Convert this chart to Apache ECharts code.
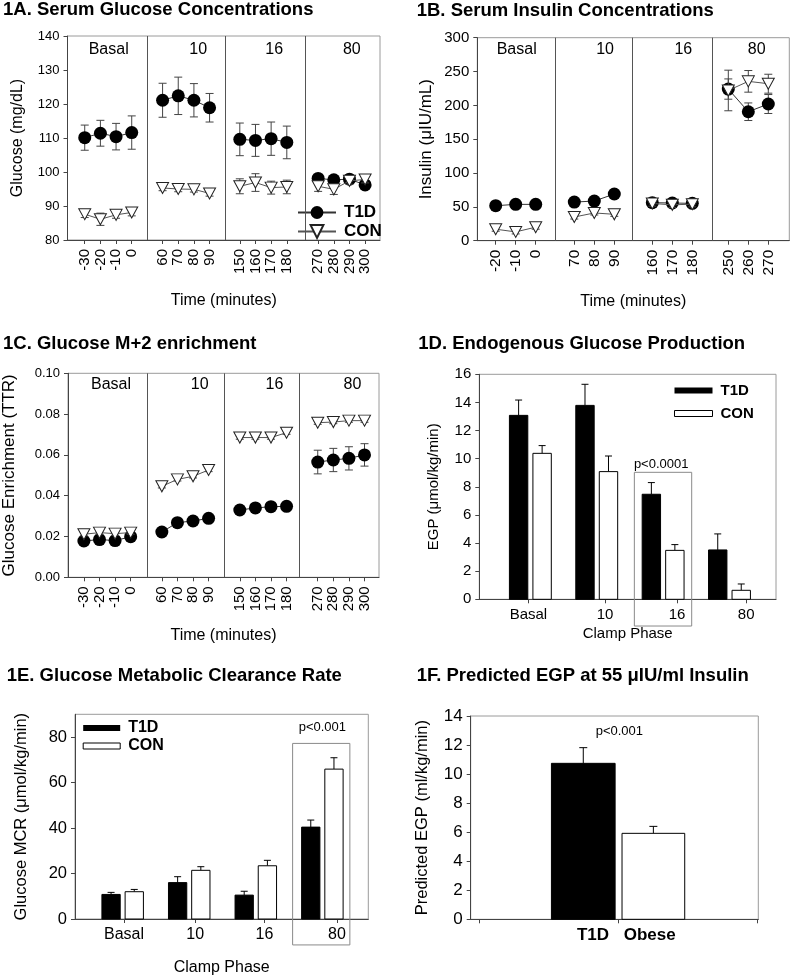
<!DOCTYPE html>
<html><head><meta charset="utf-8">
<script src="https://cdn.jsdelivr.net/npm/echarts@6/dist/echarts.min.js"></script>
<style>html,body{margin:0;padding:0;background:#fff}#c{width:791px;height:978px}</style>
</head><body><div id="c"></div>
<script>
// ---------------- DATA ----------------
const phaseNames = ['Basal', '10', '16', '80'];

// 1A Serum glucose (mg/dL)
const glucoseTimes = [-30, -20, -10, 0, 60, 70, 80, 90, 150, 160, 170, 180, 270, 280, 290, 300];
const glucoseT1D = [110.1, 111.4, 110.4, 111.6, 121.1, 122.4, 121.1, 118.9, 109.6, 109.3, 109.8, 108.7, 98.1, 97.7, 97.9, 96.2];
const glucoseT1DErr = [3.7, 3.8, 3.9, 4.9, 5.0, 5.5, 4.9, 4.2, 4.8, 4.7, 4.9, 4.8, 0.8, 0.8, 0.8, 0.8];
const glucoseCON = [87.6, 86.1, 87.4, 88.1, 95.3, 95.0, 94.9, 93.7, 95.8, 96.9, 95.4, 95.6, 95.8, 94.9, 97.4, 97.8];
const glucoseCONErr = [1.0, 1.8, 1.0, 1.0, 0.8, 0.8, 0.8, 0.8, 2.2, 2.6, 1.9, 2.0, 1.5, 1.5, 1.0, 1.0];

// 1B Serum insulin (uIU/mL)
const insulinTimes = [-20, -10, 0, 70, 80, 90, 160, 170, 180, 250, 260, 270];
const insulinT1D = [51.7, 53.7, 53.7, 57.1, 58.6, 69.0, 56.2, 55.7, 55.2, 224.1, 190.6, 202.0];
const insulinT1DErr = [3, 3, 3, 4, 4, 6, 5, 4, 4, 15, 13, 14];
const insulinCON = [17, 13, 20, 35, 41, 39, 55, 53, 54, 222, 235.5, 232];
const insulinCONErr = [3, 3, 3, 3, 3, 3, 4, 4, 4, 30, 16, 14];

// 1C Glucose M+2 enrichment (TTR)
const enrichTimes = [-30, -20, -10, 0, 60, 70, 80, 90, 150, 160, 170, 180, 270, 280, 290, 300];
const enrichT1D = [0.0178, 0.0185, 0.0180, 0.0199, 0.0222, 0.0268, 0.0276, 0.0289, 0.0330, 0.0340, 0.0346, 0.0348, 0.0565, 0.0575, 0.0583, 0.0600];
const enrichT1DErr = [0.001, 0.001, 0.001, 0.001, 0.001, 0.0012, 0.0012, 0.0012, 0.0015, 0.002, 0.002, 0.002, 0.0058, 0.0057, 0.0057, 0.0055];
const enrichCON = [0.0211, 0.0219, 0.0214, 0.0219, 0.0446, 0.0480, 0.0495, 0.0526, 0.0685, 0.0685, 0.0685, 0.0709, 0.0758, 0.0761, 0.0768, 0.0768];
const enrichCONErr = [0.0008, 0.0008, 0.0008, 0.0008, 0.0008, 0.0008, 0.0008, 0.0008, 0.0008, 0.0008, 0.0008, 0.0008, 0.0008, 0.0008, 0.0008, 0.0008];

// 1D Endogenous glucose production (umol/kg/min)
const egpT1D = [13.08, 13.79, 7.47, 3.51];
const egpT1DErr = [1.09, 1.50, 0.83, 1.14];
const egpCON = [10.38, 9.08, 3.48, 0.64];
const egpCONErr = [0.55, 1.11, 0.41, 0.45];
const egpPText = 'p<0.0001';

// 1E Glucose MCR (umol/kg/min)
const mcrT1D = [10.8, 16.0, 10.5, 40.4];
const mcrT1DErr = [0.9, 2.6, 1.7, 3.1];
const mcrCON = [12.0, 21.4, 23.4, 65.9];
const mcrCONErr = [1.0, 1.6, 2.4, 5.0];
const mcrPText = 'p<0.001';

// 1F Predicted EGP at 55 uIU/ml insulin (ml/kg/min)
const predGroups = ['T1D', 'Obese'];
const predEGP = [10.74, 5.92];
const predEGPErr = [1.08, 0.48];
const predPText = 'p<0.001';

// ---------------- LAYOUT / STYLE ----------------
const FONT = '"Liberation Sans", Arial, Helvetica, sans-serif';
const AX = '#444';
const FRAME = '#9a9a9a';

// slot layout of the broken time axes (group start per phase)
const layA = { phaseStart: [0, 4.97, 9.9, 14.9], per: 4, min: -1.1, max: 18.85, dividers: [3.98, 8.95, 14.06], labelX: [1.53, 7.24, 12.1, 17.05], labelY: 136.1 };
const layB = { phaseStart: [0, 3.93, 7.83, 11.63], per: 3, min: -0.92, max: 14.68, dividers: [3.0, 6.83, 10.83], labelX: [1.05, 5.47, 9.38, 13.05], labelY: 282.9 };
const layC = { phaseStart: [0, 5, 10, 15], per: 4, min: -1.02, max: 18.93, dividers: [4.07, 9.03, 13.84], labelX: [1.74, 7.43, 12.22, 17.23], labelY: 0.0943 };

function slotPositions(lay) {
  const pos = [];
  lay.phaseStart.forEach(s => { for (let j = 0; j < lay.per; j++) pos.push(s + j); });
  return pos;
}
const posA = slotPositions(layA), posB = slotPositions(layB), posC = slotPositions(layC);
const catIdx = [0, 1, 2, 3];

function labelAt(positions, labels) {
  return v => {
    let best = 0, bd = Infinity;
    positions.forEach((p, i) => { const d = Math.abs(p - v); if (d < bd) { bd = d; best = i; } });
    return bd < 1e-3 ? String(labels[best]) : '';
  };
}
function lineData(pos, vals, per) {
  const out = [];
  pos.forEach((p, i) => {
    if (i > 0 && i % per === 0) out.push([p - 0.5, '-']);
    out.push([p, vals[i]]);
  });
  return out;
}

const chart = echarts.init(document.getElementById('c'), null, { renderer: 'canvas' });

// ---------------- series builders ----------------
function errSeries(gi, pos, vals, errs, capHalf, z) {
  return {
    type: 'custom', xAxisIndex: gi, yAxisIndex: gi, z: z, silent: true, clip: false,
    data: pos.map((p, i) => [p, vals[i], errs[i]]),
    renderItem: (params, api) => {
      const x = api.value(0), y = api.value(1), e = api.value(2);
      const a = api.coord([x, y + e]), b = api.coord([x, y - e]);
      const st = { stroke: AX, lineWidth: 1 };
      return { type: 'group', children: [
        { type: 'line', shape: { x1: a[0], y1: a[1], x2: b[0], y2: b[1] }, style: st },
        { type: 'line', shape: { x1: a[0] - capHalf, y1: a[1], x2: a[0] + capHalf, y2: a[1] }, style: st },
        { type: 'line', shape: { x1: b[0] - capHalf, y1: b[1], x2: b[0] + capHalf, y2: b[1] }, style: st }
      ] };
    }
  };
}
function t1dLine(gi, pos, vals, per, lay) {
  return {
    type: 'line', name: 'T1D_line', xAxisIndex: gi, yAxisIndex: gi, z: 3,
    data: lineData(pos, vals, per), connectNulls: false,
    symbol: 'circle', symbolSize: 13, showSymbol: true,
    itemStyle: { color: '#000' }, lineStyle: { color: '#333', width: 1 },
    markLine: {
      silent: true, symbol: ['none', 'none'], label: { show: false },
      lineStyle: { color: '#555', width: 1, type: 'solid' },
      data: lay.dividers.map(x => ({ xAxis: x }))
    }
  };
}
function conLine(gi, pos, vals, per) {
  return {
    type: 'line', name: 'CON_line', xAxisIndex: gi, yAxisIndex: gi, z: 5,
    data: lineData(pos, vals, per), connectNulls: false,
    symbol: 'triangle', symbolRotate: 180, symbolSize: [12, 11], showSymbol: true,
    itemStyle: { color: '#fff', borderColor: '#222', borderWidth: 1 },
    lineStyle: { color: '#555', width: 1 }
  };
}
function textSeries(gi, xs, ys, texts, fontSize, bold) {
  return {
    type: 'custom', xAxisIndex: gi, yAxisIndex: gi, silent: true, clip: false, z: 6,
    data: xs.map((x, i) => [x, ys[i], i]),
    renderItem: (params, api) => {
      const p = api.coord([api.value(0), api.value(1)]);
      return { type: 'text', x: p[0], y: p[1], style: {
        text: texts[api.value(2)], textAlign: 'center', textVerticalAlign: 'middle',
        fontSize: fontSize, fontFamily: FONT, fontWeight: bold ? 'bold' : 'normal', fill: '#000' } };
    }
  };
}
function boxSeries(gi, box) {
  return {
    type: 'custom', xAxisIndex: gi, yAxisIndex: gi, silent: true, clip: false, z: 6,
    data: [box],
    renderItem: (params, api) => {
      const a = api.coord([api.value(0), api.value(3)]);
      const b = api.coord([api.value(1), api.value(2)]);
      return { type: 'rect', shape: { x: a[0], y: a[1], width: b[0] - a[0], height: b[1] - a[1] },
        style: { fill: 'none', stroke: '#8a8a8a', lineWidth: 1 } };
    }
  };
}
function barSeries(name, gi, cats, vals, errs, offsetPx, widthPx, fill, capHalf) {
  return {
    type: 'custom', name: name, xAxisIndex: gi, yAxisIndex: gi, silent: true, clip: false, z: 3,
    itemStyle: { color: fill },
    data: vals.map((v, i) => [cats[i], v, errs[i]]),
    renderItem: (params, api) => {
      const c = api.value(0), v = api.value(1), e = api.value(2);
      const top = api.coord([c, v]), base = api.coord([c, 0]), et = api.coord([c, v + e]);
      const cx = top[0] + offsetPx;
      const st = { stroke: '#000', lineWidth: 1 };
      return { type: 'group', children: [
        { type: 'line', shape: { x1: cx, y1: top[1], x2: cx, y2: et[1] }, style: st },
        { type: 'line', shape: { x1: cx - capHalf, y1: et[1], x2: cx + capHalf, y2: et[1] }, style: st },
        { type: 'rect', shape: { x: cx - widthPx / 2, y: top[1], width: widthPx, height: base[1] - top[1] },
          style: { fill: fill, stroke: '#000', lineWidth: 1 } }
      ] };
    }
  };
}

// ---------------- axes ----------------
function gridBox(left, top, width, height) {
  return { left, top, width, height, show: true, borderColor: FRAME, borderWidth: 1, backgroundColor: 'transparent' };
}
function xTimeAxis(gi, lay, pos, times, fs, nameGap) {
  return {
    gridIndex: gi, type: 'value', min: lay.min, max: lay.max, splitLine: { show: false },
    axisLine: { onZero: false, lineStyle: { color: AX } },
    axisTick: { show: true, customValues: pos, length: 4, lineStyle: { color: AX } },
    axisLabel: { customValues: pos, formatter: labelAt(pos, times), rotate: 90, fontSize: fs, color: '#000', fontFamily: FONT, margin: 9 },
    name: 'Time (minutes)', nameLocation: 'middle', nameGap: nameGap,
    nameTextStyle: { fontSize: 16, color: '#000', fontFamily: FONT }
  };
}
function xCatAxis(gi, min, max, labelPos, labels, fs, name, nameGap, nameFs, bold, tickPos) {
  return {
    gridIndex: gi, type: 'value', min: min, max: max, splitLine: { show: false },
    axisLine: { onZero: false, lineStyle: { color: AX } },
    axisTick: { show: true, customValues: tickPos || labelPos, length: 4, lineStyle: { color: AX } },
    axisLabel: { customValues: labelPos, formatter: labelAt(labelPos, labels), fontSize: fs, color: '#000', fontFamily: FONT, margin: 8, fontWeight: bold ? 'bold' : 'normal' },
    name: name, nameLocation: 'middle', nameGap: nameGap,
    nameTextStyle: { fontSize: nameFs, color: '#000', fontFamily: FONT }
  };
}
function yAxis(gi, min, max, ticks, fs, name, nameGap, nameFs, fmt) {
  return {
    gridIndex: gi, type: 'value', min: min, max: max, splitLine: { show: false },
    axisLine: { show: true, onZero: false, lineStyle: { color: AX } },
    axisTick: { show: true, customValues: ticks, length: 4, lineStyle: { color: AX } },
    axisLabel: { customValues: ticks, fontSize: fs, color: '#000', fontFamily: FONT, margin: 8, formatter: fmt || (v => String(v)) },
    name: name, nameLocation: 'middle', nameGap: nameGap,
    nameTextStyle: { fontSize: nameFs, color: '#000', fontFamily: FONT }
  };
}

const titleStyle = { fontSize: 18.5, fontWeight: 'bold', color: '#000', fontFamily: FONT };
const legendFmt = n => n.split('_')[0];

const option = {
  animation: false,
  backgroundColor: '#fff',
  title: [
    { text: '1A. Serum Glucose Concentrations', left: 3, top: 0, padding: 0, textStyle: titleStyle },
    { text: '1B. Serum Insulin Concentrations', left: 416.7, top: 1.5, padding: 0, textStyle: titleStyle },
    { text: '1C. Glucose M+2 enrichment', left: 3, top: 334.5, padding: 0, textStyle: titleStyle },
    { text: '1D. Endogenous Glucose Production', left: 418.3, top: 334.5, padding: 0, textStyle: titleStyle },
    { text: '1E. Glucose Metabolic Clearance Rate', left: 6.7, top: 666.5, padding: 0, textStyle: titleStyle },
    { text: '1F. Predicted EGP at 55 \u03bcIU/ml Insulin', left: 416.7, top: 666.5, padding: 0, textStyle: titleStyle }
  ],
  legend: [
    { orient: 'vertical', left: 297, top: 204, itemWidth: 38, itemHeight: 16, itemGap: 2, selectedMode: false, padding: 0,
      data: ['T1D_line', 'CON_line'], formatter: legendFmt,
      textStyle: { fontSize: 17, fontWeight: 'bold', color: '#000', fontFamily: FONT, padding: [0, 0, 0, 3] } },
    { orient: 'vertical', left: 674, top: 383, itemWidth: 38, itemHeight: 6, itemGap: 8, selectedMode: false, padding: 0,
      data: [{ name: 'T1D_bar', icon: 'rect', itemStyle: { color: '#000' } },
             { name: 'CON_bar', icon: 'rect', itemStyle: { color: '#fff', borderColor: '#000', borderWidth: 1 } }],
      formatter: legendFmt, textStyle: { fontSize: 15, fontWeight: 'bold', color: '#000', fontFamily: FONT, padding: [0, 0, 0, 3] } },
    { orient: 'vertical', left: 82.7, top: 720, itemWidth: 37, itemHeight: 6, itemGap: 2, selectedMode: false, padding: 0,
      data: [{ name: 'T1D_bar', icon: 'rect', itemStyle: { color: '#000' } },
             { name: 'CON_bar', icon: 'rect', itemStyle: { color: '#fff', borderColor: '#000', borderWidth: 1 } }],
      formatter: legendFmt, textStyle: { fontSize: 16, fontWeight: 'bold', color: '#000', fontFamily: FONT, padding: [0, 0, 0, 3] } }
  ],
  grid: [
    gridBox(67.5, 36, 312.5, 204),
    gridBox(477.3, 37.7, 312, 203),
    gridBox(67, 373.3, 312, 204),
    gridBox(479.3, 374.3, 296.7, 225),
    gridBox(75, 714.3, 293.3, 204.7),
    gridBox(470.7, 716, 287.6, 203.3)
  ],
  xAxis: [
    xTimeAxis(0, layA, posA, glucoseTimes, 15, 53),
    xTimeAxis(1, layB, posB, insulinTimes, 15.5, 53),
    xTimeAxis(2, layC, posC, enrichTimes, 15, 50),
    xCatAxis(3, -0.77, 3.70, [-0.03, 1.125, 2.21, 3.25], phaseNames, 15, 'Clamp Phase', 27, 15, false),
    xCatAxis(4, -0.716, 3.69, [0.02, 1.09, 2.13, 3.22], phaseNames, 16, 'Clamp Phase', 41, 16, false),
    xCatAxis(5, -1.06, 1.01, [-0.18, 0.228], predGroups, 17, '', 0, 16, true, [-1, 0, 1])
  ],
  yAxis: [
    yAxis(0, 80, 140, [80, 90, 100, 110, 120, 130, 140], 13, 'Glucose (mg/dL)', 42, 16),
    yAxis(1, 0, 300, [0, 50, 100, 150, 200, 250, 300], 15, 'Insulin (\u03bcIU/mL)', 42, 17),
    yAxis(2, 0, 0.1, [0, 0.02, 0.04, 0.06, 0.08, 0.1], 13, 'Glucose Enrichment (TTR)', 50, 17, v => v.toFixed(2)),
    yAxis(3, 0, 16, [0, 2, 4, 6, 8, 10, 12, 14, 16], 15, 'EGP (\u03bcmol/kg/min)', 38, 15),
    yAxis(4, 0, 90, [0, 20, 40, 60, 80], 16.5, 'Glucose MCR (\u03bcmol/kg/min)', 45, 16.5),
    yAxis(5, 0, 14, [0, 2, 4, 6, 8, 10, 12, 14], 17, 'Predicted EGP (ml/kg/min)', 40, 16.5)
  ],
  series: [
    // 1A
    errSeries(0, posA, glucoseT1D, glucoseT1DErr, 4, 2),
    t1dLine(0, posA, glucoseT1D, layA.per, layA),
    errSeries(0, posA, glucoseCON, glucoseCONErr, 4, 4),
    conLine(0, posA, glucoseCON, layA.per),
    textSeries(0, layA.labelX, layA.labelX.map(() => layA.labelY), phaseNames, 16, false),
    // 1B
    errSeries(1, posB, insulinT1D, insulinT1DErr, 4, 2),
    t1dLine(1, posB, insulinT1D, layB.per, layB),
    errSeries(1, posB, insulinCON, insulinCONErr, 4, 4),
    conLine(1, posB, insulinCON, layB.per),
    textSeries(1, layB.labelX, layB.labelX.map(() => layB.labelY), phaseNames, 16, false),
    // 1C
    errSeries(2, posC, enrichT1D, enrichT1DErr, 4, 2),
    t1dLine(2, posC, enrichT1D, layC.per, layC),
    errSeries(2, posC, enrichCON, enrichCONErr, 4, 4),
    conLine(2, posC, enrichCON, layC.per),
    textSeries(2, layC.labelX, layC.labelX.map(() => layC.labelY), phaseNames, 16, false),
    // 1D
    barSeries('T1D_bar', 3, catIdx, egpT1D, egpT1DErr, -11.8, 18.4, '#000', 3.5),
    barSeries('CON_bar', 3, catIdx, egpCON, egpCONErr, 11.7, 18.4, '#fff', 3.5),
    boxSeries(3, [1.566, 2.43, -1.9, 9.03]),
    textSeries(3, [1.97], [9.62], [egpPText], 13, false),
    // 1E
    barSeries('T1D_bar', 4, catIdx, mcrT1D, mcrT1DErr, -11.6, 18.3, '#000', 3.5),
    barSeries('CON_bar', 4, catIdx, mcrCON, mcrCONErr, 11.6, 18.3, '#fff', 3.5),
    boxSeries(4, [2.553, 3.413, -11.4, 77.2]),
    textSeries(4, [3.0], [84.3], [mcrPText], 13, false),
    // 1F
    barSeries('T1D_pred', 5, [0], [predEGP[0]], [predEGPErr[0]], -34.7, 63.7, '#000', 4),
    barSeries('Obese_pred', 5, [0], [predEGP[1]], [predEGPErr[1]], 35.4, 62.7, '#fff', 4),
    textSeries(5, [0.01], [12.92], [predPText], 13, false)
  ]
};
chart.setOption(option);
</script>
</body></html>
